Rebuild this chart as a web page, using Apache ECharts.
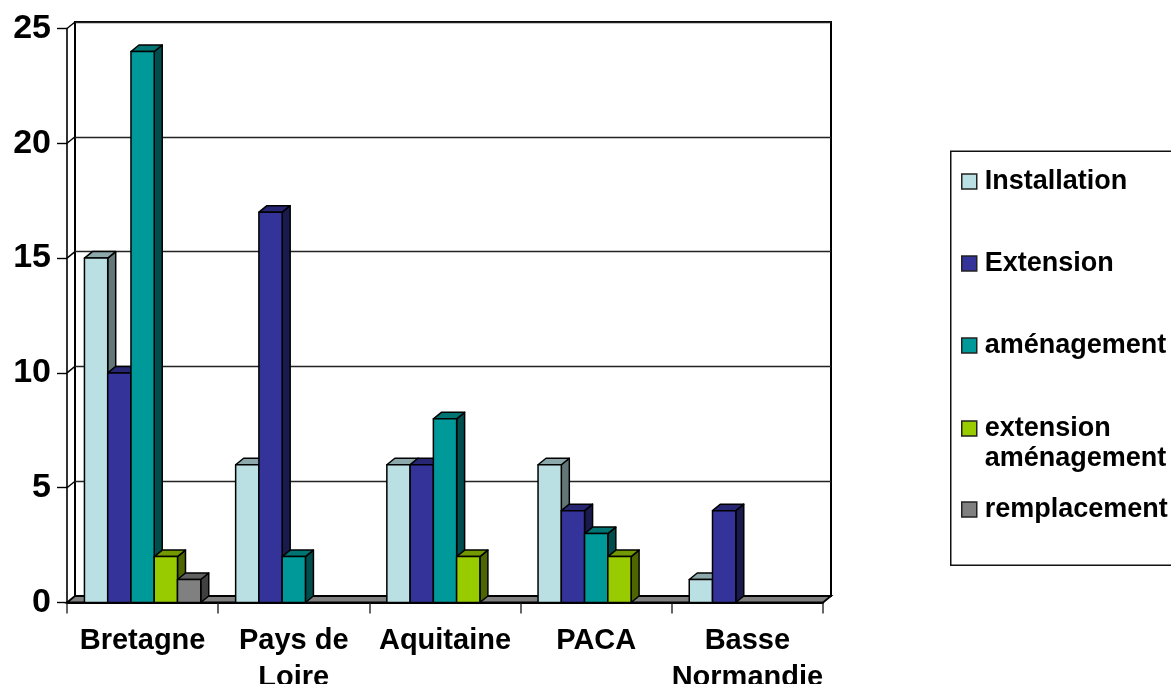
<!DOCTYPE html>
<html><head><meta charset="utf-8">
<script src="https://cdn.jsdelivr.net/npm/echarts@6/dist/echarts.min.js"></script>
<style>html,body{margin:0;padding:0;background:#fff}#c{width:1171px;height:684px}</style>
</head><body><div id="c"></div>
<script>
const categories = ['Bretagne', 'Pays de\nLoire', 'Aquitaine', 'PACA', 'Basse\nNormandie'];
const installation = [15, 6, 6, 6, 1];
const extension = [10, 17, 6, 4, 4];
const amenagement = [24, 2, 8, 3, 0];
const extensionAmenagement = [2, 0, 2, 2, 0];
const remplacement = [1, 0, 0, 0, 0];
const yTicks = [0, 5, 10, 15, 20, 25];

const seriesDefs = [
  {name: 'Installation', values: installation, front: '#BBE0E3', top: '#8CA8AA', side: '#647778', legendTop: 166},
  {name: 'Extension', values: extension, front: '#333399', top: '#262673', side: '#1A1A4D', legendTop: 248},
  {name: 'aménagement', values: amenagement, front: '#009999', top: '#007373', side: '#004D4D', legendTop: 330},
  {name: 'extension aménagement', values: extensionAmenagement, front: '#99CC00', top: '#739900', side: '#4D6600', legendTop: 383, label: ' \nextension\naménagement'},
  {name: 'remplacement', values: remplacement, front: '#808080', top: '#606060', side: '#404040', legendTop: 494}
];

const FONT = '"Liberation Sans", Arial, sans-serif';
const DX = 8, DY = 6.5, INK = '#000', BAR_SHARE = 1 / 6.5;
const line = (x1, y1, x2, y2, w) => ({type: 'line', shape: {x1, y1, x2, y2}, style: {stroke: INK, lineWidth: w || 1.5}});
const poly = (points, fill) => ({type: 'polygon', shape: {points}, style: {fill, stroke: INK, lineWidth: 1.5, lineJoin: 'round'}});

function barRenderer(k, def) {
  return function (params, api) {
    const v = api.value(1);
    if (!v) return null;
    const w = api.size([1, 0])[0] * BAR_SHARE;
    const cx = api.coord([api.value(0), 0])[0];
    const x0 = cx + (k - 2.5) * w, x1 = x0 + w;
    const y0 = api.coord([api.value(0), 0])[1], y1 = api.coord([api.value(0), v])[1];
    return {type: 'group', children: [
      poly([[x1, y1], [x1 + DX, y1 - DY], [x1 + DX, y0 - DY], [x1, y0]], def.side),
      poly([[x0, y1], [x0 + DX, y1 - DY], [x1 + DX, y1 - DY], [x1, y1]], def.top),
      poly([[x0, y1], [x1, y1], [x1, y0], [x0, y0]], def.front)
    ]};
  };
}

const floorSeries = {
  type: 'custom', name: 'floor', xAxisIndex: 0, yAxisIndex: 0, silent: true, z: 1, clip: false,
  data: yTicks.map(t => [0, t]),
  renderItem(params, api) {
    const t = api.value(1);
    const y = api.coord([0, t])[1];
    const left = params.coordSys.x, right = left + params.coordSys.width;
    if (t === 0) {
      return {type: 'group', children: [
        {type: 'polygon', shape: {points: [[left, y], [left + DX, y - DY], [right + DX, y - DY], [right, y]]},
         style: {fill: '#808080', stroke: INK, lineWidth: 1.8}}
      ]};
    }
    return line(left, y, left + DX, y - DY, 1.4);
  }
};

const barSeries = seriesDefs.map((d, k) => ({
  type: 'custom', name: d.name, xAxisIndex: 0, yAxisIndex: 0, z: 3, clip: false,
  itemStyle: {color: d.front},
  data: d.values.map((v, i) => [i, v]),
  renderItem: barRenderer(k, d)
}));

const legends = seriesDefs.map(d => ({
  data: [d.name], left: 961, top: d.legendTop, orient: 'vertical', selectedMode: false,
  icon: 'rect', itemWidth: 15, itemHeight: 15, itemGap: 0, padding: 0,
  itemStyle: {color: d.front, borderColor: '#222', borderWidth: 1.5},
  textStyle: {fontFamily: FONT, fontWeight: 'bold', fontSize: 27, color: '#000', lineHeight: 30, padding: [1, 0, 0, 3]},
  formatter: () => d.label || d.name
}));

const chart = echarts.init(document.getElementById('c'), null, {renderer: 'canvas'});
chart.setOption({
  animation: false,
  backgroundColor: '#fff',
  grid: [
    {left: 67, top: 28.5, width: 756, height: 574, outerBoundsMode: 'none', containLabel: false},
    {left: 75, top: 22, width: 756, height: 574, outerBoundsMode: 'none', show: true, borderColor: INK, borderWidth: 2, backgroundColor: 'transparent'}
  ],
  xAxis: [
    {type: 'category', gridIndex: 0, data: categories, boundaryGap: true,
     axisLine: {show: true, lineStyle: {color: INK, width: 1.8}},
     axisTick: {show: true, length: 11, lineStyle: {color: '#333', width: 1.5}},
     axisLabel: {interval: 0, margin: 20, fontFamily: FONT, fontWeight: 'bold', fontSize: 29, lineHeight: 37, color: '#000'}},
    {type: 'category', gridIndex: 1, data: categories, show: false}
  ],
  yAxis: [
    {type: 'value', gridIndex: 0, min: 0, max: 25, interval: 5, splitLine: {show: false},
     axisLine: {show: true, lineStyle: {color: INK, width: 1.6}},
     axisTick: {show: true, length: 10, lineStyle: {color: INK, width: 1.4}},
     axisLabel: {margin: 16, fontFamily: FONT, fontWeight: 'bold', fontSize: 34, color: '#000', padding: [3, 0, 0, 0]}},
    {type: 'value', gridIndex: 1, min: 0, max: 25, interval: 5,
     axisLine: {show: false}, axisTick: {show: false}, axisLabel: {show: false},
     splitLine: {show: true, lineStyle: {color: '#222', width: 1.4}}}
  ],
  legend: legends,
  graphic: [{type: 'rect', left: 950, top: 150.5, z: -1,
    shape: {width: 240, height: 414}, style: {fill: '#fff', stroke: '#111', lineWidth: 1.5}}],
  series: [floorSeries].concat(barSeries)
});
</script></body></html>
